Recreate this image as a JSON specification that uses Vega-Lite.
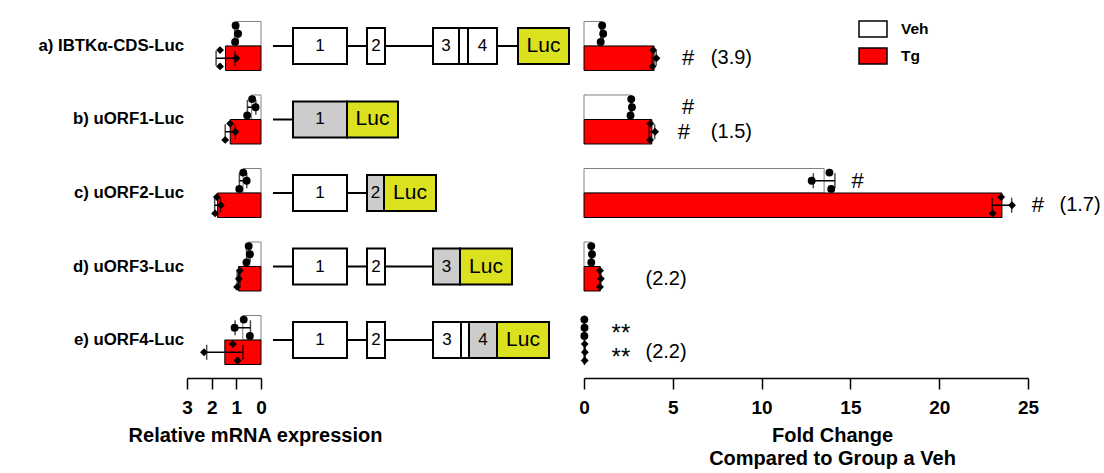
{
  "$schema": "https://vega.github.io/schema/vega-lite/v6.json",
  "padding": {"left": 38, "top": 8, "right": 2, "bottom": 2},
  "bounds": "flush",
  "spacing": 12,
  "config": {
    "font": "Liberation Sans",
    "view": {"stroke": null},
    "axis": {"domainColor": "black", "tickColor": "black", "labelColor": "black", "titleColor": "black", "grid": false, "labelFont": "Liberation Sans", "titleFont": "Liberation Sans", "domainWidth": 1.5, "tickWidth": 1.5, "labelOverlap": false, "labelFlush": false}
  },
  "datasets": {
    "mrna": [
      {"row": "a", "group": "Veh", "cat": "a Veh", "rep": 1, "value": 1.03},
      {"row": "a", "group": "Veh", "cat": "a Veh", "rep": 2, "value": 0.93},
      {"row": "a", "group": "Veh", "cat": "a Veh", "rep": 3, "value": 1.05},
      {"row": "a", "group": "Tg", "cat": "a Tg", "rep": 1, "value": 1.66},
      {"row": "a", "group": "Tg", "cat": "a Tg", "rep": 2, "value": 1.0},
      {"row": "a", "group": "Tg", "cat": "a Tg", "rep": 3, "value": 1.66},
      {"row": "b", "group": "Veh", "cat": "b Veh", "rep": 1, "value": 0.36},
      {"row": "b", "group": "Veh", "cat": "b Veh", "rep": 2, "value": 0.22},
      {"row": "b", "group": "Veh", "cat": "b Veh", "rep": 3, "value": 0.56},
      {"row": "b", "group": "Tg", "cat": "b Tg", "rep": 1, "value": 1.25},
      {"row": "b", "group": "Tg", "cat": "b Tg", "rep": 2, "value": 1.04},
      {"row": "b", "group": "Tg", "cat": "b Tg", "rep": 3, "value": 1.45},
      {"row": "c", "group": "Veh", "cat": "c Veh", "rep": 1, "value": 0.72},
      {"row": "c", "group": "Veh", "cat": "c Veh", "rep": 2, "value": 0.58},
      {"row": "c", "group": "Veh", "cat": "c Veh", "rep": 3, "value": 0.88},
      {"row": "c", "group": "Tg", "cat": "c Tg", "rep": 1, "value": 1.79},
      {"row": "c", "group": "Tg", "cat": "c Tg", "rep": 2, "value": 1.63},
      {"row": "c", "group": "Tg", "cat": "c Tg", "rep": 3, "value": 1.86},
      {"row": "d", "group": "Veh", "cat": "d Veh", "rep": 1, "value": 0.5},
      {"row": "d", "group": "Veh", "cat": "d Veh", "rep": 2, "value": 0.45},
      {"row": "d", "group": "Veh", "cat": "d Veh", "rep": 3, "value": 0.59},
      {"row": "d", "group": "Tg", "cat": "d Tg", "rep": 1, "value": 0.86},
      {"row": "d", "group": "Tg", "cat": "d Tg", "rep": 2, "value": 0.9},
      {"row": "d", "group": "Tg", "cat": "d Tg", "rep": 3, "value": 0.97},
      {"row": "e", "group": "Veh", "cat": "e Veh", "rep": 1, "value": 0.7},
      {"row": "e", "group": "Veh", "cat": "e Veh", "rep": 2, "value": 1.07},
      {"row": "e", "group": "Veh", "cat": "e Veh", "rep": 3, "value": 0.45},
      {"row": "e", "group": "Tg", "cat": "e Tg", "rep": 1, "value": 1.14},
      {"row": "e", "group": "Tg", "cat": "e Tg", "rep": 2, "value": 2.31},
      {"row": "e", "group": "Tg", "cat": "e Tg", "rep": 3, "value": 0.95}
    ],
    "fold": [
      {"row": "a", "group": "Veh", "cat": "a Veh", "rep": 1, "value": 1.02},
      {"row": "a", "group": "Veh", "cat": "a Veh", "rep": 2, "value": 1.08},
      {"row": "a", "group": "Veh", "cat": "a Veh", "rep": 3, "value": 0.94},
      {"row": "a", "group": "Tg", "cat": "a Tg", "rep": 1, "value": 3.9},
      {"row": "a", "group": "Tg", "cat": "a Tg", "rep": 2, "value": 4.08},
      {"row": "a", "group": "Tg", "cat": "a Tg", "rep": 3, "value": 3.86},
      {"row": "b", "group": "Veh", "cat": "b Veh", "rep": 1, "value": 2.66},
      {"row": "b", "group": "Veh", "cat": "b Veh", "rep": 2, "value": 2.7},
      {"row": "b", "group": "Veh", "cat": "b Veh", "rep": 3, "value": 2.62},
      {"row": "b", "group": "Tg", "cat": "b Tg", "rep": 1, "value": 3.74},
      {"row": "b", "group": "Tg", "cat": "b Tg", "rep": 2, "value": 4.0},
      {"row": "b", "group": "Tg", "cat": "b Tg", "rep": 3, "value": 3.72},
      {"row": "c", "group": "Veh", "cat": "c Veh", "rep": 1, "value": 13.82},
      {"row": "c", "group": "Veh", "cat": "c Veh", "rep": 2, "value": 12.82},
      {"row": "c", "group": "Veh", "cat": "c Veh", "rep": 3, "value": 13.92},
      {"row": "c", "group": "Tg", "cat": "c Tg", "rep": 1, "value": 23.49},
      {"row": "c", "group": "Tg", "cat": "c Tg", "rep": 2, "value": 24.1},
      {"row": "c", "group": "Tg", "cat": "c Tg", "rep": 3, "value": 23.01},
      {"row": "d", "group": "Veh", "cat": "d Veh", "rep": 1, "value": 0.41},
      {"row": "d", "group": "Veh", "cat": "d Veh", "rep": 2, "value": 0.45},
      {"row": "d", "group": "Veh", "cat": "d Veh", "rep": 3, "value": 0.41},
      {"row": "d", "group": "Tg", "cat": "d Tg", "rep": 1, "value": 0.9},
      {"row": "d", "group": "Tg", "cat": "d Tg", "rep": 2, "value": 0.95},
      {"row": "d", "group": "Tg", "cat": "d Tg", "rep": 3, "value": 0.9},
      {"row": "e", "group": "Veh", "cat": "e Veh", "rep": 1, "value": 0.02},
      {"row": "e", "group": "Veh", "cat": "e Veh", "rep": 2, "value": 0.03},
      {"row": "e", "group": "Veh", "cat": "e Veh", "rep": 3, "value": 0.02},
      {"row": "e", "group": "Tg", "cat": "e Tg", "rep": 1, "value": 0.04},
      {"row": "e", "group": "Tg", "cat": "e Tg", "rep": 2, "value": 0.05},
      {"row": "e", "group": "Tg", "cat": "e Tg", "rep": 3, "value": 0.04}
    ],
    "labels": [
      {"cat": "a Veh", "label": "a) IBTKα-CDS-Luc"},
      {"cat": "b Veh", "label": "b) uORF1-Luc"},
      {"cat": "c Veh", "label": "c) uORF2-Luc"},
      {"cat": "d Veh", "label": "d) uORF3-Luc"},
      {"cat": "e Veh", "label": "e) uORF4-Luc"}
    ],
    "lines": [
      {"row": "a", "start": 0, "end": 245},
      {"row": "b", "start": 0, "end": 20},
      {"row": "c", "start": 0, "end": 94},
      {"row": "d", "start": 0, "end": 160},
      {"row": "e", "start": 0, "end": 196}
    ],
    "boxes": [
      {"row": "a", "start": 20, "end": 74, "part": "exon", "label": "1"},
      {"row": "a", "start": 94, "end": 112, "part": "exon", "label": "2"},
      {"row": "a", "start": 160, "end": 186, "part": "exon", "label": "3"},
      {"row": "a", "start": 186, "end": 195, "part": "exon", "label": ""},
      {"row": "a", "start": 195, "end": 224, "part": "exon", "label": "4"},
      {"row": "a", "start": 245, "end": 296, "part": "luc", "label": "Luc"},
      {"row": "b", "start": 20, "end": 74, "part": "uorf", "label": "1"},
      {"row": "b", "start": 74, "end": 125, "part": "luc", "label": "Luc"},
      {"row": "c", "start": 20, "end": 74, "part": "exon", "label": "1"},
      {"row": "c", "start": 94, "end": 111, "part": "uorf", "label": "2"},
      {"row": "c", "start": 111, "end": 163, "part": "luc", "label": "Luc"},
      {"row": "d", "start": 20, "end": 74, "part": "exon", "label": "1"},
      {"row": "d", "start": 94, "end": 112, "part": "exon", "label": "2"},
      {"row": "d", "start": 160, "end": 187, "part": "uorf", "label": "3"},
      {"row": "d", "start": 187, "end": 239, "part": "luc", "label": "Luc"},
      {"row": "e", "start": 20, "end": 74, "part": "exon", "label": "1"},
      {"row": "e", "start": 94, "end": 112, "part": "exon", "label": "2"},
      {"row": "e", "start": 160, "end": 188, "part": "exon", "label": "3"},
      {"row": "e", "start": 188, "end": 196, "part": "exon", "label": ""},
      {"row": "e", "start": 196, "end": 224, "part": "uorf", "label": "4"},
      {"row": "e", "start": 224, "end": 276, "part": "luc", "label": "Luc"}
    ],
    "annot": [
      {"cat": "a Tg", "x": 5.86, "label": "#", "kind": "sig"},
      {"cat": "a Tg", "x": 8.3, "label": "(3.9)", "kind": "fold"},
      {"cat": "b Veh", "x": 5.86, "label": "#", "kind": "sig"},
      {"cat": "b Tg", "x": 5.63, "label": "#", "kind": "sig"},
      {"cat": "b Tg", "x": 8.3, "label": "(1.5)", "kind": "fold"},
      {"cat": "c Veh", "x": 15.4, "label": "#", "kind": "sig"},
      {"cat": "c Tg", "x": 25.56, "label": "#", "kind": "sig"},
      {"cat": "c Tg", "x": 27.93, "label": "(1.7)", "kind": "fold"},
      {"cat": "d Tg", "x": 4.62, "label": "(2.2)", "kind": "fold"},
      {"cat": "e Veh", "x": 2.08, "label": "**", "kind": "star"},
      {"cat": "e Tg", "x": 2.08, "label": "**", "kind": "star"},
      {"cat": "e Tg", "x": 4.62, "label": "(2.2)", "kind": "fold"}
    ]
  },
  "resolve": {
    "scale": {"x": "independent", "y": "independent", "fill": "independent", "stroke": "independent", "shape": "independent", "yOffset": "independent"},
    "legend": {"fill": "independent"}
  },
  "hconcat": [
    {
      "width": 74,
      "height": 370,
      "data": {"name": "mrna"},
      "encoding": {
        "y": {"field": "cat", "type": "nominal", "axis": null,
          "scale": {"domain": ["a Veh", "a Tg", "a gap", "b Veh", "b Tg", "b gap", "c Veh", "c Tg", "c gap", "d Veh", "d Tg", "d gap", "e Veh", "e Tg"], "paddingInner": 0, "paddingOuter": 0.55}}
      },
      "layer": [
        {
          "mark": {"type": "bar", "strokeWidth": 1},
          "encoding": {
            "x": {"aggregate": "mean", "field": "value", "type": "quantitative", "title": "Relative mRNA expression",
              "scale": {"domain": [0, 3], "reverse": true, "nice": false},
              "axis": {"values": [0, 1, 2, 3], "tickCount": 4, "labelOverlap": false, "titleFontSize": 20, "titleFontWeight": "bold", "titleX": 68, "titleY": 47, "titleBaseline": "top", "titleAlign": "center", "labelFontSize": 19, "labelFontWeight": "bold", "tickSize": 11, "labelPadding": 9}},
            "fill": {"field": "group", "type": "nominal", "scale": {"domain": ["Veh", "Tg"], "range": ["#ffffff", "#ff0000"]}, "legend": null},
            "stroke": {"condition": {"test": "datum.group == 'Veh'", "value": "#808080"}, "value": "#000000"}
          }
        },
        {
          "mark": {"type": "errorbar", "extent": "stdev", "color": "black", "thickness": 1.5, "ticks": {"size": 15, "thickness": 1.5}},
          "encoding": {"x": {"field": "value", "type": "quantitative", "title": "Relative mRNA expression"}}
        },
        {
          "mark": {"type": "point", "filled": true, "color": "black", "opacity": 1, "size": 62},
          "encoding": {
            "x": {"field": "value", "type": "quantitative", "title": "Relative mRNA expression"},
            "yOffset": {"field": "rep", "type": "nominal", "scale": {"type": "band", "paddingInner": 0, "paddingOuter": 0}},
            "shape": {"field": "group", "type": "nominal", "scale": {"domain": ["Veh", "Tg"], "range": ["circle", "diamond"]}, "legend": null}
          }
        },
        {
          "mark": {"type": "rule", "color": "black", "strokeWidth": 1.5},
          "encoding": {"x": {"datum": 0, "title": "Relative mRNA expression"}}
        },
        {
          "data": {"name": "labels"},
          "mark": {"type": "text", "align": "right", "baseline": "middle", "dx": -3, "fontSize": 16.8, "fontWeight": "bold", "color": "black"},
          "encoding": {
            "x": {"datum": 3, "title": "Relative mRNA expression"},
            "y": {"field": "cat", "type": "nominal", "bandPosition": 1},
            "text": {"field": "label"}
          }
        }
      ]
    },
    {
      "width": 299,
      "height": 370,
      "encoding": {
        "y": {"field": "row", "type": "nominal", "axis": null, "scale": {"domain": ["a", "b", "c", "d", "e"], "paddingInner": 0.51, "paddingOuter": 0.272}}
      },
      "layer": [
        {
          "data": {"name": "lines"},
          "mark": {"type": "rule", "color": "black", "strokeWidth": 2},
          "encoding": {
            "x": {"field": "start", "type": "quantitative", "scale": {"domain": [0, 299], "nice": false}, "axis": null},
            "x2": {"field": "end"}
          }
        },
        {
          "data": {"name": "boxes"},
          "mark": {"type": "rect", "stroke": "black", "strokeWidth": 2},
          "encoding": {
            "x": {"field": "start", "type": "quantitative"},
            "x2": {"field": "end"},
            "fill": {"field": "part", "type": "nominal", "scale": {"domain": ["exon", "uorf", "luc"], "range": ["#ffffff", "#cccccc", "#dbe01f"]}, "legend": null}
          }
        },
        {
          "data": {"name": "boxes"},
          "transform": [
            {"filter": "datum.label != '' && datum.label != 'Luc'"},
            {"fold": ["start", "end"], "as": ["k", "v"]},
            {"aggregate": [{"op": "mean", "field": "v", "as": "mid"}], "groupby": ["row", "label"]}
          ],
          "mark": {"type": "text", "fontSize": 17, "color": "black", "baseline": "middle"},
          "encoding": {"x": {"field": "mid", "type": "quantitative"}, "text": {"field": "label"}}
        },
        {
          "data": {"name": "boxes"},
          "transform": [
            {"filter": "datum.label == 'Luc'"},
            {"fold": ["start", "end"], "as": ["k", "v"]},
            {"aggregate": [{"op": "mean", "field": "v", "as": "mid"}], "groupby": ["row", "label"]}
          ],
          "mark": {"type": "text", "fontSize": 21, "color": "black", "baseline": "middle"},
          "encoding": {"x": {"field": "mid", "type": "quantitative"}, "text": {"field": "label"}}
        }
      ]
    },
    {
      "width": 444,
      "height": 370,
      "encoding": {
        "y": {"field": "cat", "type": "nominal", "axis": null,
          "scale": {"domain": ["a Veh", "a Tg", "a gap", "b Veh", "b Tg", "b gap", "c Veh", "c Tg", "c gap", "d Veh", "d Tg", "d gap", "e Veh", "e Tg"], "paddingInner": 0, "paddingOuter": 0.55}}
      },
      "layer": [
        {
          "data": {"name": "fold"},
          "mark": {"type": "bar", "strokeWidth": 1},
          "encoding": {
            "x": {"aggregate": "mean", "field": "value", "type": "quantitative", "title": ["Fold Change", "Compared to Group a Veh"],
              "scale": {"domain": [0, 25], "nice": false},
              "axis": {"values": [0, 5, 10, 15, 20, 25], "tickCount": 6, "titleFontSize": 20, "titleFontWeight": "bold", "titleLineHeight": 23, "titleX": 248, "titleY": 47, "titleBaseline": "top", "titleAlign": "center", "labelFontSize": 19, "labelFontWeight": "bold", "tickSize": 11, "labelPadding": 9}},
            "fill": {"field": "group", "type": "nominal", "scale": {"domain": ["Veh", "Tg"], "range": ["#ffffff", "#ff0000"]},
              "legend": {"orient": "none", "legendX": 274, "legendY": 6, "title": null, "padding": 0, "symbolType": "M-1,-0.57H1V0.57H-1Z", "symbolSize": 784, "symbolStrokeColor": "black", "symbolStrokeWidth": 1.5, "labelFontSize": 15.5, "labelFontWeight": "bold", "labelColor": "black", "labelOffset": 13, "rowPadding": 1,
                "encode": {"symbols": {"update": {"stroke": {"value": "black"}, "strokeWidth": {"value": 1.5}, "opacity": {"value": 1}}}}}},
            "stroke": {"condition": {"test": "datum.group == 'Veh'", "value": "#808080"}, "value": "#000000"}
          }
        },
        {
          "data": {"name": "fold"},
          "mark": {"type": "errorbar", "extent": "stdev", "color": "black", "thickness": 1.5, "ticks": {"size": 15, "thickness": 1.5}},
          "encoding": {"x": {"field": "value", "type": "quantitative", "title": ["Fold Change", "Compared to Group a Veh"]}}
        },
        {
          "data": {"name": "fold"},
          "transform": [{"filter": "datum.group == 'Veh'"}],
          "mark": {"type": "point", "filled": true, "color": "black", "opacity": 1, "size": 62, "shape": "circle"},
          "encoding": {
            "x": {"field": "value", "type": "quantitative", "title": ["Fold Change", "Compared to Group a Veh"]},
            "yOffset": {"field": "rep", "type": "nominal", "scale": {"type": "band", "paddingInner": 0, "paddingOuter": 0}}
          }
        },
        {
          "data": {"name": "fold"},
          "transform": [{"filter": "datum.group == 'Tg'"}],
          "mark": {"type": "point", "filled": true, "color": "black", "opacity": 1, "size": 62, "shape": "diamond"},
          "encoding": {
            "x": {"field": "value", "type": "quantitative", "title": ["Fold Change", "Compared to Group a Veh"]},
            "yOffset": {"field": "rep", "type": "nominal", "scale": {"type": "band", "paddingInner": 0, "paddingOuter": 0}}
          }
        },
        {
          "data": {"name": "fold"},
          "mark": {"type": "rule", "color": "black", "strokeWidth": 1.5},
          "encoding": {"x": {"datum": 0, "title": ["Fold Change", "Compared to Group a Veh"]}}
        },
        {
          "data": {"name": "annot"},
          "transform": [{"filter": "datum.kind == 'sig'"}],
          "mark": {"type": "text", "fontSize": 22, "color": "black", "baseline": "middle"},
          "encoding": {"x": {"field": "x", "type": "quantitative", "title": ["Fold Change", "Compared to Group a Veh"]}, "text": {"field": "label"}}
        },
        {
          "data": {"name": "annot"},
          "transform": [{"filter": "datum.kind == 'star'"}],
          "mark": {"type": "text", "fontSize": 24, "color": "black", "baseline": "middle", "dy": 6},
          "encoding": {"x": {"field": "x", "type": "quantitative", "title": ["Fold Change", "Compared to Group a Veh"]}, "text": {"field": "label"}}
        },
        {
          "data": {"name": "annot"},
          "transform": [{"filter": "datum.kind == 'fold'"}],
          "mark": {"type": "text", "fontSize": 20, "color": "black", "baseline": "middle"},
          "encoding": {"x": {"field": "x", "type": "quantitative", "title": ["Fold Change", "Compared to Group a Veh"]}, "text": {"field": "label"}}
        }
      ]
    }
  ]
}
